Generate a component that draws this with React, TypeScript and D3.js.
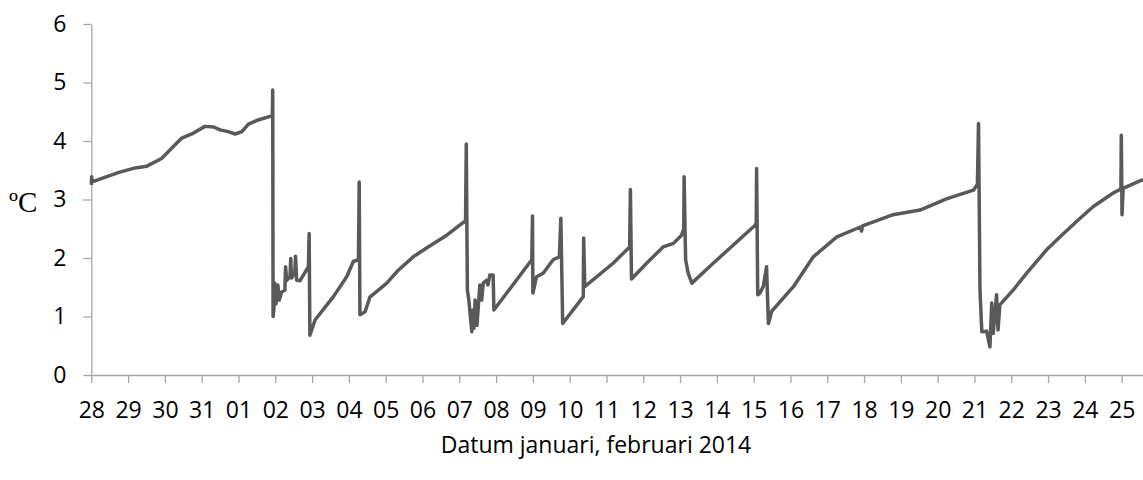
import React, { useRef, useEffect } from 'react';
import * as d3 from 'd3';

// days since 28 januari 00:00
const dayOffsets = [
  0, 0.01, 0.02, 0.73, 1.19, 1.51, 1.91, 2.27, 2.46, 2.73, 3.09, 3.32, 3.5, 3.72, 3.91, 4.09, 4.27, 4.49, 4.86, 4.92, 4.93,
  4.94, 4.96, 4.99, 5.02, 5.07, 5.11, 5.17, 5.26, 5.28, 5.31, 5.4, 5.42, 5.44, 5.53, 5.55, 5.58, 5.67, 5.9,
  5.92, 5.94, 6.08, 6.58, 6.94, 7.12, 7.26, 7.28, 7.3, 7.44, 7.57, 8.03, 8.34, 8.75, 9.11, 9.66, 10.11,
  10.17, 10.19, 10.22, 10.26, 10.34, 10.37, 10.4, 10.43, 10.48, 10.56, 10.61, 10.65, 10.74, 10.78, 10.83,
  10.92, 10.94, 11.97, 11.99, 12.0, 12.1, 12.28, 12.55, 12.72, 12.76, 12.81, 13.37, 13.38, 13.41, 14.18,
  14.63, 14.65, 14.68, 15.09, 15.54, 15.82, 16.04, 16.1, 16.11, 16.15, 16.22, 16.32, 16.9, 18.04, 18.07,
  18.08, 18.11, 18.17, 18.26, 18.35, 18.4, 18.49, 19.08, 19.62, 20.26, 20.9, 20.93, 20.96, 21.79, 22.52,
  23.24, 23.97, 24.08, 24.11, 24.15, 24.2, 24.33, 24.42, 24.47, 24.51, 24.6, 24.64, 24.69, 25.05, 25.42,
  25.96, 26.32, 26.87, 27.23, 27.77, 27.98, 27.99, 28.01, 28.04, 28.54, 28.6,
];

const temps = [
  3.25, 3.39, 3.3, 3.46, 3.54, 3.57, 3.7, 3.93, 4.05, 4.12, 4.25, 4.24, 4.19, 4.16, 4.12, 4.16, 4.29, 4.35, 4.42, 4.43, 4.87,
  1.0, 1.11, 1.57, 1.22, 1.54, 1.28, 1.42, 1.45, 1.85, 1.62, 1.68, 1.99, 1.66, 1.74, 2.03, 1.62, 1.61, 1.85,
  2.42, 0.68, 0.94, 1.34, 1.68, 1.94, 1.97, 3.3, 1.03, 1.08, 1.33, 1.57, 1.79, 2.02, 2.17, 2.39, 2.61,
  2.63, 3.95, 1.45, 1.28, 0.74, 1.11, 0.8, 1.28, 0.85, 1.54, 1.28, 1.57, 1.62, 1.54, 1.71,
  1.71, 1.11, 1.97, 2.72, 1.4, 1.68, 1.74, 1.97, 2.02, 2.68, 0.88, 1.34, 2.34, 1.51, 1.91,
  2.19, 3.17, 1.64, 1.91, 2.19, 2.25, 2.39, 2.5, 3.39, 1.97, 1.74, 1.57, 1.91, 2.56, 2.6,
  3.53, 1.37, 1.4, 1.51, 1.85, 0.88, 1.09, 1.51, 2.02, 2.36, 2.53, 2.46, 2.55, 2.74, 2.82,
  3.01, 3.16, 3.26, 4.3, 1.45, 0.74, 0.75, 0.48, 1.23, 0.71, 1.37, 0.77, 1.2, 1.45, 1.74,
  2.14, 2.36, 2.68, 2.88, 3.11, 3.18, 4.1, 2.74, 3.19, 3.33, 3.33,
];

const tickLabels = [
  '28', '29', '30', '31', '01', '02', '03', '04', '05', '06', '07', '08', '09', '10', '11',
  '12', '13', '14', '15', '16', '17', '18', '19', '20', '21', '22', '23', '24', '25',
];
const yTicks = [0, 1, 2, 3, 4, 5, 6];
const xTitle = 'Datum januari, februari 2014';
const yTitle = 'ºC';

const App = () => {
  const svgRef = useRef<SVGSVGElement>(null);
  const width = 1143;
  const height = 480;
  const margin = { top: 24, left: 91.3, bottom: 105 };

  useEffect(() => {
    const svg = d3.select(svgRef.current);
    svg.selectAll('*').remove();

    const xScale = d3.scaleLinear().domain([0, 28.58]).range([margin.left, width]);
    const yScale = d3.scaleLinear().domain([0, 6]).range([height - margin.bottom, margin.top]);

    const axisColor = '#a6a6a6';
    const font = "'Open Sans', sans-serif";

    const xAxis = d3.axisBottom(xScale)
      .tickValues(tickLabels.map((_, i) => i))
      .tickFormat((d, i) => tickLabels[i])
      .tickSize(8)
      .tickSizeOuter(0);

    const gx = svg.append('g')
      .attr('transform', `translate(0,${yScale(0)})`)
      .call(xAxis);
    gx.select('.domain').attr('stroke', axisColor).attr('stroke-width', 1.3);
    gx.selectAll('.tick line').attr('stroke', axisColor).attr('stroke-width', 1.3);
    gx.selectAll('.tick text')
      .attr('fill', '#000')
      .attr('font-family', font)
      .attr('font-size', 23)
      .attr('y', 27);

    const yAxis = d3.axisLeft(yScale)
      .tickValues(yTicks)
      .tickFormat(d3.format('d'))
      .tickSize(8)
      .tickSizeOuter(0);
    const gy = svg.append('g')
      .attr('transform', `translate(${margin.left},0)`)
      .call(yAxis);
    gy.select('.domain').attr('stroke', axisColor).attr('stroke-width', 1.3);
    gy.selectAll('.tick line').attr('stroke', axisColor).attr('stroke-width', 1.3);
    gy.selectAll('.tick text')
      .attr('fill', '#000')
      .attr('font-family', font)
      .attr('font-size', 23)
      .attr('x', -25);

    const line = d3.line<number>()
      .x((d, i) => xScale(dayOffsets[i]))
      .y(d => yScale(d));

    svg.append('path')
      .datum(temps)
      .attr('fill', 'none')
      .attr('stroke', '#595959')
      .attr('stroke-width', 3.5)
      .attr('stroke-linejoin', 'round')
      .attr('d', line);

    svg.append('text')
      .attr('x', 596)
      .attr('y', 453)
      .attr('text-anchor', 'middle')
      .attr('font-family', font)
      .attr('font-size', 23)
      .attr('fill', '#000')
      .text(xTitle);

    svg.append('text')
      .attr('x', 9)
      .attr('y', 212)
      .attr('font-family', "'Liberation Serif', serif")
      .attr('font-size', 29)
      .attr('fill', '#000')
      .text(yTitle);
  }, []);

  return (
    <svg
      ref={svgRef}
      width={width}
      height={height}
      style={{ position: 'absolute', left: 0, top: 0, background: '#fff' }}
    />
  );
};

export default App;
